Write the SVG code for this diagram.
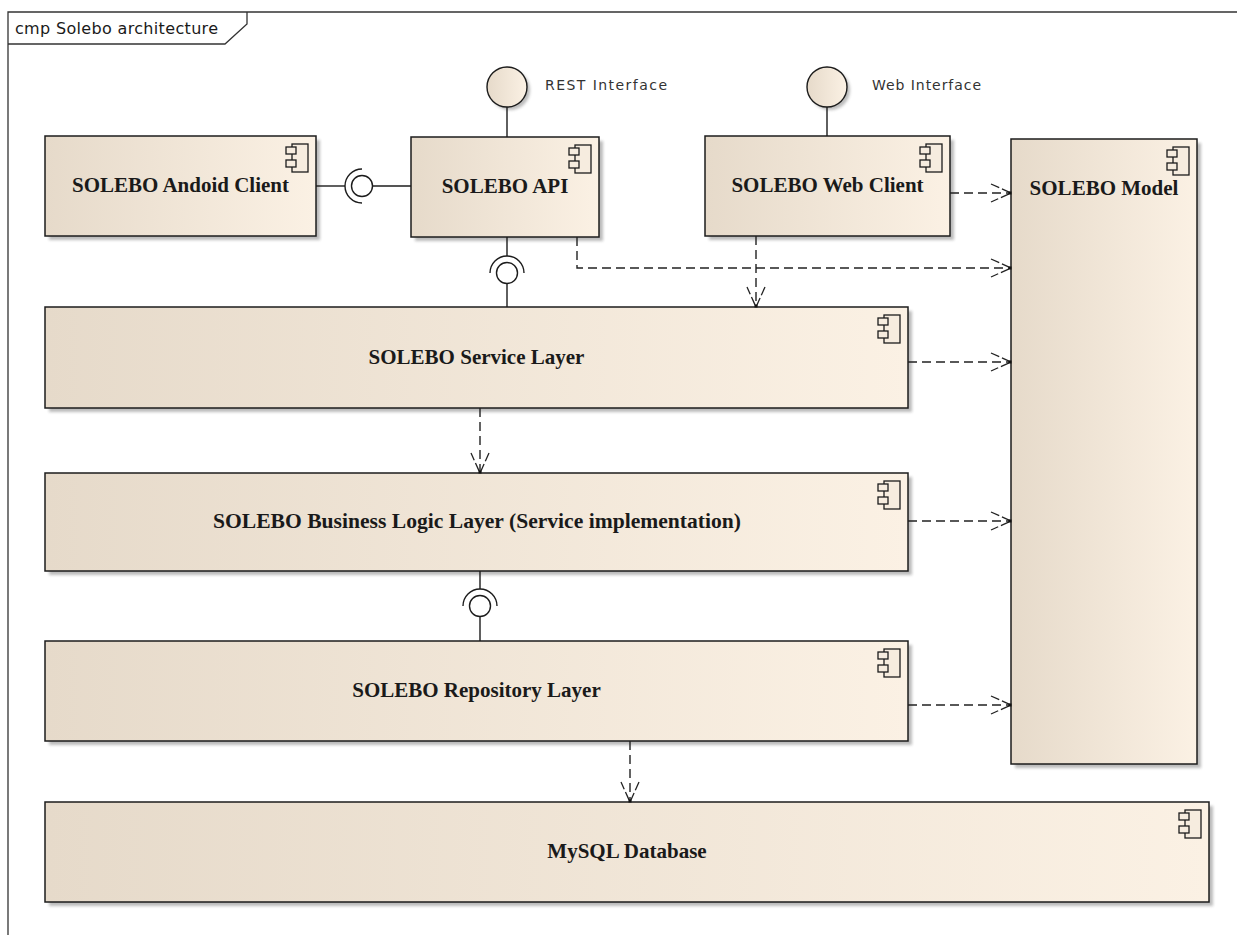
<svg xmlns="http://www.w3.org/2000/svg" width="1237" height="935" viewBox="0 0 1237 935">
  <defs>
    <style>
      .box { fill: url(#beige); stroke: #1c1c1c; stroke-width: 1.5; }
      .shadow { fill: #8f8f8f; opacity: 0.6; filter: url(#soft); }
      .name { font-family: "Liberation Serif", "Times New Roman", serif; font-weight: bold; font-size: 21px; fill: #1a1a1a; text-anchor: middle; }
      .label { font-family: "DejaVu Sans", "Liberation Sans", sans-serif; font-size: 14px; fill: #333; }
      .title { font-family: "DejaVu Sans", "Liberation Sans", sans-serif; font-size: 16px; fill: #1a1a1a; }
      .frame { fill: none; stroke: #333; stroke-width: 1.3; }
      .icon rect { fill: #f6ecdf; stroke: #1c1c1c; stroke-width: 1.3; }
      .wire { fill: none; stroke: #1c1c1c; stroke-width: 1.4; }
      .ball { fill: #ffffff; stroke: #1c1c1c; stroke-width: 1.4; }
      .iface { fill: url(#beige); stroke: #1c1c1c; stroke-width: 1.4; }
      .dep { fill: none; stroke: #222; stroke-width: 1.4; stroke-dasharray: 9 5; marker-end: url(#open); }
    </style>
    <linearGradient id="beige" x1="0" y1="0" x2="1" y2="0">
      <stop offset="0" stop-color="#E6DACA"/>
      <stop offset="1" stop-color="#FBF1E4"/>
    </linearGradient>
    <filter id="soft" x="-10%" y="-10%" width="120%" height="120%">
      <feGaussianBlur stdDeviation="1.5"/>
    </filter>
    <!-- component stereotype icon, origin at the box's top-right corner -->
    <g id="cmpIcon" class="icon">
      <rect x="-24" y="8" width="16" height="28"/>
      <rect x="-30" y="11" width="10" height="7"/>
      <rect x="-30" y="24" width="10" height="7"/>
    </g>
    <!-- open dependency arrowhead with a small dot at the tip -->
    <marker id="open" markerUnits="userSpaceOnUse" viewBox="0 0 24 22" markerWidth="24" markerHeight="22" refX="22" refY="11" orient="auto">
      <path d="M2,2 L22,11 L2,20" fill="none" stroke="#222" stroke-width="1.3" stroke-dasharray="9 3"/>
      <rect x="19.5" y="9.5" width="3" height="3" fill="#111"/>
    </marker>
  </defs>

  <rect width="1237" height="935" fill="#ffffff"/>

  <!-- diagram frame -->
  <g id="frame">
    <path class="frame" d="M8,935 L8,12 L1237,12"/>
    <path class="frame" d="M8,44 L225,44 L247,24 L247,12"/>
    <text class="title" x="15" y="34" textLength="203" lengthAdjust="spacing">cmp Solebo architecture</text>
  </g>

  <!-- provided interfaces -->
  <g id="rest-interface">
    <circle class="shadow" cx="510" cy="90" r="20"/>
    <circle class="iface" cx="507" cy="87" r="20"/>
    <text class="label" x="545" y="90" textLength="122" lengthAdjust="spacing">REST Interface</text>
  </g>
  <g id="web-interface">
    <circle class="shadow" cx="830" cy="90" r="20"/>
    <circle class="iface" cx="827" cy="87" r="20"/>
    <text class="label" x="872" y="90" textLength="109" lengthAdjust="spacing">Web Interface</text>
  </g>

  <!-- components -->
  <g id="android-client">
    <rect class="shadow" x="49" y="140" width="271" height="100"/>
    <rect class="box" x="45" y="136" width="271" height="100"/>
    <use href="#cmpIcon" x="316" y="136"/>
    <text class="name" x="180.5" y="192">SOLEBO Andoid Client</text>
  </g>
  <g id="api">
    <rect class="shadow" x="415" y="141" width="188" height="100"/>
    <rect class="box" x="411" y="137" width="188" height="100"/>
    <use href="#cmpIcon" x="599" y="137"/>
    <text class="name" x="505" y="193">SOLEBO API</text>
  </g>
  <g id="web-client">
    <rect class="shadow" x="709" y="140" width="245" height="100"/>
    <rect class="box" x="705" y="136" width="245" height="100"/>
    <use href="#cmpIcon" x="950" y="136"/>
    <text class="name" x="827.5" y="192">SOLEBO Web Client</text>
  </g>
  <g id="model">
    <rect class="shadow" x="1015" y="143" width="186" height="625"/>
    <rect class="box" x="1011" y="139" width="186" height="625"/>
    <use href="#cmpIcon" x="1197" y="139"/>
    <text class="name" x="1104" y="195">SOLEBO Model</text>
  </g>
  <g id="service-layer">
    <rect class="shadow" x="49" y="311" width="863" height="101"/>
    <rect class="box" x="45" y="307" width="863" height="101"/>
    <use href="#cmpIcon" x="908" y="307"/>
    <text class="name" x="476.5" y="364">SOLEBO Service Layer</text>
  </g>
  <g id="business-layer">
    <rect class="shadow" x="49" y="477" width="863" height="98"/>
    <rect class="box" x="45" y="473" width="863" height="98"/>
    <use href="#cmpIcon" x="908" y="473"/>
    <text class="name" x="477" y="528" textLength="528" lengthAdjust="spacingAndGlyphs">SOLEBO Business Logic Layer (Service implementation)</text>
  </g>
  <g id="repository-layer">
    <rect class="shadow" x="49" y="645" width="863" height="100"/>
    <rect class="box" x="45" y="641" width="863" height="100"/>
    <use href="#cmpIcon" x="908" y="641"/>
    <text class="name" x="476.5" y="697">SOLEBO Repository Layer</text>
  </g>
  <g id="mysql">
    <rect class="shadow" x="49" y="806" width="1164" height="100"/>
    <rect class="box" x="45" y="802" width="1164" height="100"/>
    <use href="#cmpIcon" x="1209" y="802"/>
    <text class="name" x="627" y="858">MySQL Database</text>
  </g>

  <!-- connectors -->
  <g id="connectors">
    <!-- interface realisation lines -->
    <path class="wire" d="M507,107 L507,137"/>
    <path class="wire" d="M827,107 L827,136"/>

    <!-- Android client requires API -->
    <path class="wire" d="M316,186 L345,186"/>
    <path class="wire" d="M362,169 A17,17 0 0 0 362,203"/>
    <circle class="ball" cx="362" cy="186" r="10.5"/>
    <path class="wire" d="M372.5,186 L411,186"/>

    <!-- API requires service layer -->
    <path class="wire" d="M507,237 L507,256"/>
    <path class="wire" d="M490,273 A17,17 0 0 1 524,273"/>
    <circle class="ball" cx="507" cy="273" r="10.5"/>
    <path class="wire" d="M507,283.5 L507,307"/>

    <!-- business logic requires repository -->
    <path class="wire" d="M480,571 L480,589"/>
    <path class="wire" d="M463,606 A17,17 0 0 1 497,606"/>
    <circle class="ball" cx="480" cy="606" r="10.5"/>
    <path class="wire" d="M480,616.5 L480,641"/>

    <!-- dependencies -->
    <path class="dep" d="M950,193 L1011,193"/>
    <path class="dep" d="M577,237 L577,268 L1011,268"/>
    <path class="dep" d="M756,236 L756,307"/>
    <path class="dep" d="M908,362 L1011,362"/>
    <path class="dep" d="M480,408 L480,473"/>
    <path class="dep" d="M908,521 L1011,521"/>
    <path class="dep" d="M908,705 L1011,705"/>
    <path class="dep" d="M630,741 L630,802"/>
  </g>
</svg>
